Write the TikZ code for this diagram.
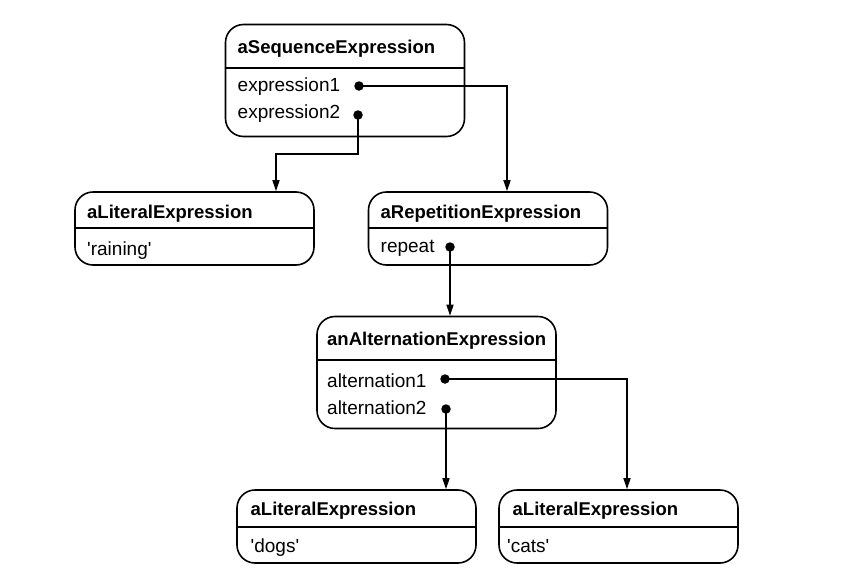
\documentclass[tikz,border=0pt]{standalone}
\usepackage{fontspec}
\setmainfont{Liberation Sans}[Ligatures=TeXOff]
\usetikzlibrary{arrows.meta}
\begin{document}
\begin{tikzpicture}[x=1pt,y=-1pt,
  objbox/.style={draw, line width=1.6pt, rounded corners=18pt, minimum width=239pt, inner sep=0pt},
  tall/.style={minimum height=112pt},
  short/.style={minimum height=73pt},
  hdr/.style={anchor=base west, font=\fontsize{18.5}{22}\selectfont\bfseries, inner sep=0pt},
  fld/.style={anchor=base west, font=\fontsize{19}{22}\selectfont, inner sep=0pt},
  sep/.style={line width=1.4pt},
  dotnode/.style={circle, fill, inner sep=0pt, minimum size=9.5pt},
  link/.style={line width=1.5pt, -{Triangle[length=11pt,width=7pt]}}]
\useasboundingbox (0,0) rectangle (860,576);

% boxes
\node[objbox,tall]  (seq)  at (345,80.5) {};
\node[objbox,short] (lit1) at (194.5,228.5) {};
\node[objbox,short] (rep)  at (488,228.5) {};
\node[objbox,tall]  (alt)  at (436.5,372.5) {};
\node[objbox,short] (dogs) at (356.5,526.5) {};
\node[objbox,short] (cats) at (618.5,526.5) {};

% separators
\draw[sep] (seq.west |- 0,68) -- (seq.east |- 0,68);
\draw[sep] (lit1.west |- 0,228) -- (lit1.east |- 0,228);
\draw[sep] (rep.west |- 0,228) -- (rep.east |- 0,228);
\draw[sep] (alt.west |- 0,360) -- (alt.east |- 0,360);
\draw[sep] (dogs.west |- 0,527) -- (dogs.east |- 0,527);
\draw[sep] (cats.west |- 0,527) -- (cats.east |- 0,527);

% texts
\node[hdr] (seqh) at (237.5,53) {aSequenceExpression};
\node[fld] (seqf1) at (237.5,91) {expression1};
\node[fld] (seqf2) at (237.5,118) {expression2};
\node[hdr] (lit1h) at (87,218) {aLiteralExpression};
\node[fld] (lit1f) at (87,255) {'raining'};
\node[hdr] (reph) at (380.5,218) {aRepetitionExpression};
\node[fld] (repf) at (380.5,252) {repeat};
\node[hdr] (alth) at (327,345) {anAlternationExpression};
\node[fld] (altf1) at (327,387) {alternation1};
\node[fld] (altf2) at (327,414) {alternation2};
\node[hdr] (dogsh) at (250.5,515) {aLiteralExpression};
\node[fld] (dogsf) at (250.5,552) {'dogs'};
\node[hdr] (catsh) at (512.5,515) {aLiteralExpression};
\node[fld] (catsf) at (507,552) {'cats'};

% dots
\node[dotnode] (d1) at (359,86) {};
\node[dotnode] (d2) at (358,115) {};
\node[dotnode] (dr) at (450,247) {};
\node[dotnode] (da1) at (445,379) {};
\node[dotnode] (da2) at (446,409) {};

% connectors
\draw[link] (d1.center) -| ([xshift=19pt]rep.north);
\draw[link] (d2.center) -- (d2.center |- 0,154) -| ([xshift=81.5pt]lit1.north);
\draw[link] (dr.center) -- (dr.center |- alt.north);
\draw[link] (da1.center) -| ([xshift=8.5pt]cats.north);
\draw[link] (da2.center) -- (da2.center |- dogs.north);
\end{tikzpicture}
\end{document}
